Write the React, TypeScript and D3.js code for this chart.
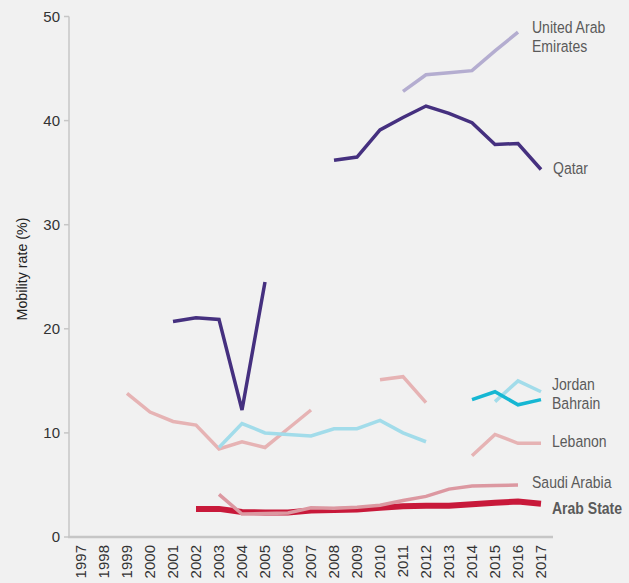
import React from "react";
import * as d3 from "d3";

const years: number[] = [1997,1998,1999,2000,2001,2002,2003,2004,2005,2006,2007,2008,2009,2010,2011,2012,2013,2014,2015,2016,2017];
const yTicks: number[] = [0, 10, 20, 30, 40, 50];

type V = number | null;
const qatar: V[] = [null,null,null,null,20.7,21.05,20.9,12.2,24.5,null,null,36.2,36.5,39.1,40.3,41.4,40.7,39.8,37.7,37.8,35.3];
const uae: V[] = [null,null,null,null,null,null,null,null,null,null,null,null,null,null,42.8,44.4,44.6,44.8,46.7,48.5,null];
const jordan: V[] = [null,null,null,null,null,null,8.6,10.9,10.0,9.85,9.7,10.4,10.4,11.2,10.0,9.15,null,null,13.0,15.0,13.95];
const bahrain: V[] = [null,null,null,null,null,null,null,null,null,null,null,null,null,null,null,null,null,13.2,13.95,12.7,13.2];
const lebanon: V[] = [null,null,13.8,12.0,11.1,10.75,8.45,9.15,8.6,10.4,12.2,null,null,15.1,15.4,12.9,null,7.8,9.85,9.0,9.0];
const saudi: V[] = [null,null,null,null,null,null,4.1,2.2,2.25,2.3,2.8,2.75,2.85,3.05,3.5,3.9,4.6,4.9,4.95,5.0,null];
const arabState: V[] = [null,null,null,null,null,2.7,2.7,2.4,2.35,2.35,2.55,2.6,2.65,2.8,2.95,3.0,3.0,3.15,3.3,3.4,3.2];

const seriesList = [
  { name: "Lebanon", values: lebanon, color: "#e6b3b4", width: 3.5 },
  { name: "Jordan", values: jordan, color: "#a2dcea", width: 3.5 },
  { name: "Bahrain", values: bahrain, color: "#16b7d3", width: 3.5 },
  { name: "United Arab Emirates", values: uae, color: "#b4add0", width: 3.5 },
  { name: "Qatar", values: qatar, color: "#45307f", width: 3.5 },
  { name: "Arab State", values: arabState, color: "#c8193a", width: 6 },
  { name: "Saudi Arabia", values: saudi, color: "#dc98a1", width: 3.5 },
];

const labels = [
  { lines: ["United Arab", "Emirates"], x: 532, y: 32.5, bold: false },
  { lines: ["Qatar"], x: 553, y: 174, bold: false },
  { lines: ["Jordan"], x: 552, y: 390, bold: false },
  { lines: ["Bahrain"], x: 552, y: 408.5, bold: false },
  { lines: ["Lebanon"], x: 552, y: 447, bold: false },
  { lines: ["Saudi Arabia"], x: 532, y: 488, bold: false },
  { lines: ["Arab State"], x: 552, y: 513.5, bold: true },
];

const W = 629, H = 583;
const FONT = "'Liberation Sans', Arial, sans-serif";

export default function App() {
  const x = d3.scaleLinear().domain([1997, 2017]).range([81, 541]);
  const y = d3.scaleLinear().domain([0, 50]).range([537, 16.5]);
  const line = d3.line<[number, V]>()
    .defined(d => d[1] != null)
    .x(d => x(d[0]))
    .y(d => y(d[1] as number));

  return (
    <svg width={W} height={H} style={{ position: "absolute", left: 0, top: 0, fontFamily: FONT }}>
      <rect x={0} y={0} width={W} height={H} fill="#f1f1f1" />
      <line x1={69} x2={69} y1={y(50)} y2={y(0)} stroke="#c6c6c6" strokeWidth={1.5} />
      <line x1={68} x2={553} y1={y(0)} y2={y(0)} stroke="#c6c6c6" strokeWidth={2.5} />
      {yTicks.map(t => (
        <g key={t}>
          <line x1={64} x2={69} y1={y(t)} y2={y(t)} stroke="#c6c6c6" strokeWidth={1.5} />
          <text x={60} y={y(t)} dy="0.36em" textAnchor="end" fontSize={15} fill="#333">{t}</text>
        </g>
      ))}
      {years.map(yr => (
        <text key={yr} transform={`translate(${x(yr)},545) rotate(-90)`} textAnchor="end" dy="0.36em" fontSize={15} fill="#333">{yr}</text>
      ))}
      <text transform={`translate(22,269) rotate(-90) scale(0.95,1)`} textAnchor="middle" dy="0.36em" fontSize={15} fill="#222">Mobility rate (%)</text>
      {seriesList.map(s => (
        <path key={s.name}
          d={line(years.map((yr, i) => [yr, s.values[i]] as [number, V])) || ""}
          fill="none" stroke={s.color} strokeWidth={s.width} strokeLinejoin="miter" strokeLinecap="butt" />
      ))}
      {labels.map((l, i) => (
        <text key={i} transform={`translate(${l.x},${l.y}) scale(0.85,1)`} fontSize={16.5} fill="#5a5a5a" fontWeight={l.bold ? "bold" : "normal"}>
          {l.lines.map((t, j) => (
            <tspan key={j} x={0} dy={j === 0 ? 0 : 19.5}>{t}</tspan>
          ))}
        </text>
      ))}
    </svg>
  );
}
